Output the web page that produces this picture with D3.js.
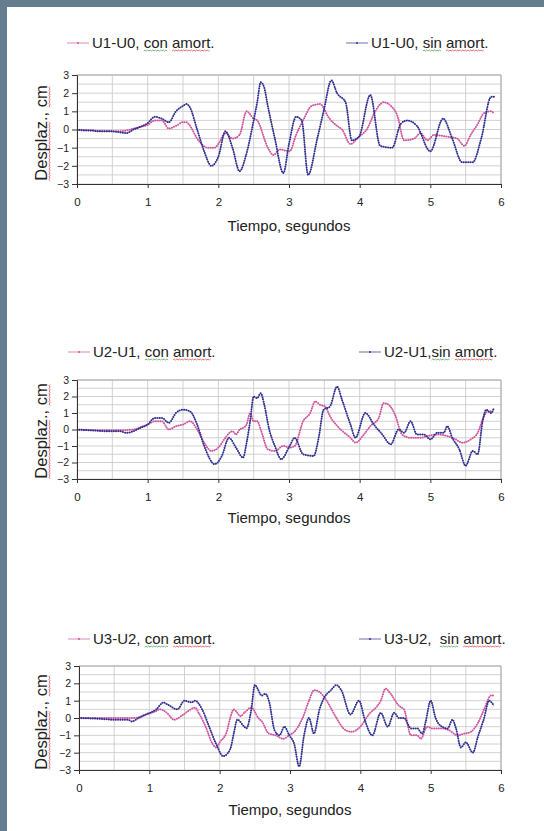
<!DOCTYPE html>
<html>
<head>
<meta charset="utf-8">
<script src="https://cdn.jsdelivr.net/npm/d3@7"></script>
<style>
  body { margin: 0; background: #fff; }
  svg { display: block; }
  text { font-family: "Liberation Sans", Arial, Helvetica, sans-serif; fill: #222; }
</style>
</head>
<body>
<svg id="page" width="544" height="831"></svg>
<script>
// Ticks and labels
var tickT = [0, 1, 2, 3, 4, 5, 6];
var tickD = [-3, -2, -1, 0, 1, 2, 3];
var gridT = [0, 0.5, 1, 1.5, 2, 2.5, 3, 3.5, 4, 4.5, 5, 5.5, 6];
var gridD = [-3, -2.5, -2, -1.5, -1, -0.5, 0, 0.5, 1, 1.5, 2, 2.5, 3];
var legendCon = ["U1-U0, con amort.", "U2-U1, con amort.", "U3-U2, con amort."];
var legendSin = ["U1-U0, sin amort.", "U2-U1,sin amort.", "U3-U2,  sin amort."];
var xTitle = "Tiempo, segundos";
var yTitle = "Desplaz., cm";

// [tiempo (s), desplazamiento (cm)]
var con1 = [[0,0],[0.2,-0.05],[0.4,-0.1],[0.6,-0.1],[0.7,-0.05],[0.8,0.05],[0.9,0.15],[1.0,0.25],[1.1,0.5],[1.2,0.5],
  [1.3,0.05],[1.4,0.2],[1.5,0.4],[1.55,0.4],[1.6,0.2],[1.7,-0.5],[1.85,-1.0],[1.95,-1.0],[2.0,-0.8],[2.1,-0.2],
  [2.2,-0.5],[2.3,-0.3],[2.4,1.0],[2.5,0.6],[2.55,0.5],[2.7,-1.0],[2.78,-1.4],[2.87,-1.1],[3.01,-1.2],[3.1,-0.3],
  [3.2,0.5],[3.32,1.3],[3.44,1.4],[3.49,1.2],[3.54,0.8],[3.68,0.2],[3.75,0.0],[3.87,-0.8],[3.99,-0.4],[4.1,0.0],
  [4.22,1.0],[4.34,1.5],[4.44,1.3],[4.53,0.8],[4.63,-0.6],[4.77,-0.5],[4.86,-0.2],[4.96,-0.6],[5.05,-0.3],[5.24,-0.4],
  [5.38,-0.5],[5.48,-0.9],[5.57,-0.3],[5.67,0.3],[5.76,0.9],[5.86,1.0],[5.9,0.9]];
var sin1 = [[0,0],[0.1,-0.05],[0.2,-0.05],[0.3,-0.1],[0.4,-0.1],[0.5,-0.1],[0.6,-0.15],[0.7,-0.2],[0.8,0.0],[0.9,0.15],
  [1.0,0.35],[1.1,0.7],[1.2,0.6],[1.3,0.4],[1.4,1.0],[1.5,1.3],[1.55,1.4],[1.6,1.2],[1.7,0.0],[1.8,-1.2],
  [1.9,-2.0],[2.0,-1.5],[2.1,-0.1],[2.2,-1.0],[2.3,-2.3],[2.4,-1.3],[2.5,0.5],[2.55,1.5],[2.6,2.6],[2.65,2.3],
  [2.7,1.3],[2.8,-0.5],[2.92,-2.4],[3.0,-0.8],[3.1,0.7],[3.18,0.5],[3.27,-2.5],[3.4,-0.5],[3.49,1.0],[3.6,2.7],
  [3.68,2.0],[3.8,1.5],[3.89,-0.6],[3.99,-0.4],[4.15,1.9],[4.29,-0.9],[4.46,-1.0],[4.58,0.3],[4.67,0.5],[4.81,0.2],
  [5.0,-1.2],[5.18,0.6],[5.31,-0.5],[5.45,-1.8],[5.6,-1.8],[5.72,-0.5],[5.86,1.8],[5.9,1.8]];
var con2 = [[0,0],[0.3,-0.05],[0.6,-0.05],[0.8,0.0],[0.9,0.15],[1.0,0.3],[1.1,0.5],[1.2,0.5],[1.3,0.0],[1.4,0.2],
  [1.5,0.3],[1.6,0.5],[1.7,0.0],[1.8,-0.8],[1.9,-1.3],[2.0,-1.1],[2.1,-0.5],[2.2,-0.1],[2.25,-0.3],[2.3,0.0],
  [2.35,0.1],[2.4,0.3],[2.45,1.0],[2.5,0.5],[2.55,0.5],[2.6,0.0],[2.7,-1.2],[2.8,-1.3],[2.92,-1.0],[3.01,-1.1],
  [3.08,-1.0],[3.2,0.5],[3.3,1.0],[3.37,1.7],[3.44,1.5],[3.51,1.4],[3.58,0.8],[3.73,0.0],[3.87,-0.5],[3.94,-0.8],
  [4.06,-0.3],[4.15,0.2],[4.27,0.7],[4.34,1.6],[4.41,1.5],[4.5,0.9],[4.6,-0.3],[4.72,-0.5],[4.86,-0.5],[4.96,-0.4],
  [5.1,-0.3],[5.24,-0.4],[5.36,-0.6],[5.45,-0.8],[5.57,-0.6],[5.67,-0.2],[5.74,0.6],[5.81,1.1],[5.88,1.1]];
var sin2 = [[0,0],[0.2,-0.05],[0.4,-0.1],[0.5,-0.1],[0.6,-0.1],[0.7,-0.2],[0.8,-0.1],[0.9,0.1],[1.0,0.3],[1.1,0.7],
  [1.2,0.7],[1.3,0.4],[1.4,1.0],[1.5,1.2],[1.6,1.1],[1.7,0.3],[1.8,-1.0],[1.95,-2.1],[2.05,-1.6],[2.15,-0.5],
  [2.25,-1.1],[2.35,-1.7],[2.4,-0.8],[2.45,0.5],[2.5,2.0],[2.55,1.9],[2.6,2.2],[2.65,1.5],[2.72,0.0],[2.8,-1.0],
  [2.89,-1.8],[3.01,-1.0],[3.08,-0.5],[3.2,-1.5],[3.35,-1.6],[3.42,-0.5],[3.49,1.2],[3.58,1.4],[3.68,2.6],[3.75,1.8],
  [3.87,0.3],[3.94,-0.5],[4.08,1.0],[4.2,0.3],[4.32,-0.3],[4.44,-0.9],[4.55,0.0],[4.63,-0.2],[4.72,0.5],[4.81,-0.3],
  [4.91,-0.3],[5.0,-0.6],[5.1,-0.2],[5.19,-0.2],[5.24,0.2],[5.31,-0.5],[5.41,-1.2],[5.5,-2.2],[5.6,-1.3],[5.67,-1.5],
  [5.74,0.5],[5.79,1.2],[5.86,1.0],[5.9,1.3]];
var con3 = [[0,0],[0.4,0.0],[0.8,0.0],[0.85,0.05],[0.95,0.2],[1.1,0.4],[1.15,0.5],[1.25,0.3],[1.35,-0.1],[1.45,0.1],
  [1.55,0.4],[1.65,0.6],[1.7,0.3],[1.8,-0.5],[1.9,-1.5],[1.95,-1.7],[2.0,-1.4],[2.1,-0.8],[2.15,0.0],[2.2,0.5],
  [2.3,0.1],[2.35,0.3],[2.45,0.6],[2.55,0.0],[2.6,-0.2],[2.7,-0.9],[2.8,-1.0],[2.9,-1.2],[2.99,-1.0],[3.06,-0.8],
  [3.18,0.0],[3.27,1.0],[3.34,1.6],[3.42,1.5],[3.47,1.3],[3.55,0.8],[3.66,0.0],[3.76,-0.6],[3.87,-0.8],[4.0,-0.5],
  [4.12,0.2],[4.29,1.0],[4.36,1.7],[4.43,1.4],[4.55,0.7],[4.62,0.5],[4.72,-1.0],[4.81,-1.0],[4.86,-1.2],[4.95,-0.5],
  [5.02,-0.6],[5.14,-0.6],[5.26,-0.7],[5.38,-1.0],[5.48,-0.9],[5.57,-0.8],[5.67,-0.3],[5.76,0.5],[5.86,1.3],[5.9,1.3]];
var sin3 = [[0,0],[0.3,-0.05],[0.5,-0.1],[0.7,-0.1],[0.75,-0.2],[0.85,0.0],[0.95,0.2],[1.1,0.5],[1.2,0.9],[1.25,0.8],
  [1.4,0.5],[1.5,1.0],[1.6,0.9],[1.65,1.0],[1.75,0.5],[1.85,-0.5],[1.95,-1.5],[2.05,-2.2],[2.15,-1.8],[2.2,-0.9],
  [2.25,-0.1],[2.35,-0.5],[2.38,-0.6],[2.45,0.5],[2.5,1.9],[2.6,1.3],[2.65,1.4],[2.7,1.0],[2.78,-0.7],[2.85,-1.0],
  [2.92,-0.5],[2.99,-1.0],[3.06,-1.5],[3.13,-2.8],[3.2,-1.0],[3.27,0.0],[3.34,-0.9],[3.42,0.5],[3.49,1.2],[3.58,1.6],
  [3.66,1.9],[3.73,1.6],[3.86,0.2],[3.98,1.0],[4.07,-0.2],[4.17,-1.0],[4.29,0.3],[4.39,-0.5],[4.48,0.3],[4.55,0.0],
  [4.62,0.0],[4.72,-0.6],[4.81,-0.6],[4.88,-0.9],[4.93,-0.2],[5.0,1.0],[5.07,0.0],[5.16,-0.5],[5.24,-0.6],[5.31,-0.1],
  [5.36,-0.6],[5.43,-1.7],[5.5,-1.4],[5.6,-2.0],[5.67,-1.1],[5.76,0.0],[5.83,1.0],[5.9,0.7]];

var pink = "#d2549e", blue = "#2f2f90";
var font = "'Liberation Sans', Arial, Helvetica, sans-serif";

// page layout of the three charts
var panels = [
  {con: con1, sin: sin1, left: 77, right: 501, top: 75, bottom: 184, legBase: 48, conLeg: 67, sinLeg: 346, titleBase: 231, yTitleC: 133},
  {con: con2, sin: sin2, left: 77, right: 501, top: 380, bottom: 479, legBase: 357, conLeg: 68, sinLeg: 359, titleBase: 523, yTitleC: 431},
  {con: con3, sin: sin3, left: 79, right: 501, top: 666, bottom: 770, legBase: 644, conLeg: 68, sinLeg: 359, titleBase: 815, yTitleC: 722}
];

var svg = d3.select("#page");
svg.append("rect").attr("width", 544).attr("height", 831).attr("fill", "#fff");
svg.append("rect").attr("width", 544).attr("height", 7).attr("fill", "#647d8f");
svg.append("rect").attr("width", 7).attr("height", 831).attr("fill", "#647d8f");

// wavy spell-check underline
function squiggle(parent, x0, x1, y0, color) {
  var d = "M" + x0 + "," + y0, up = true;
  for (var xx = x0 + 1.3; xx <= x1; xx += 1.3) {
    d += "L" + xx.toFixed(1) + "," + (y0 + (up ? -1 : 0)).toFixed(1);
    up = !up;
  }
  parent.append("path").attr("d", d).attr("fill", "none").attr("stroke", color).attr("stroke-width", 0.7);
}

function markWord(parent, textNode, str, word, y0, color) {
  var i = str.indexOf(word);
  if (i < 0) return;
  var a = textNode.getExtentOfChar(i), b = textNode.getExtentOfChar(i + word.length - 1);
  squiggle(parent, a.x, b.x + b.width, y0, color);
}

function legendItem(g, x0, base, label, color) {
  g.append("line").attr("x1", x0).attr("x2", x0 + 22).attr("y1", base - 5).attr("y2", base - 5)
    .attr("stroke", color).attr("stroke-width", 0.7);
  g.append("circle").attr("cx", x0 + 11).attr("cy", base - 5).attr("r", 1).attr("fill", color);
  var t = g.append("text").attr("x", x0 + 25).attr("y", base).attr("font-size", 15)
    .style("white-space", "pre").text(label);
  var node = t.node();
  var w = label.indexOf("con") >= 0 ? "con" : "sin";
  markWord(g, node, label, w, base + 3, "#3a9a3a");
  markWord(g, node, label, "amort", base + 3, "#d83030");
}

panels.forEach(function (p, i) {
  var g = svg.append("g");
  var x = d3.scaleLinear().domain([0, 6]).range([p.left, p.right]);
  var y = d3.scaleLinear().domain([-3, 3]).range([p.bottom, p.top]);

  // grid
  g.append("g").selectAll("line").data(gridD).join("line")
    .attr("x1", p.left).attr("x2", p.right)
    .attr("y1", function (d) { return y(d); }).attr("y2", function (d) { return y(d); })
    .attr("stroke", "#c6c6c6").attr("stroke-width", 0.8);
  g.append("g").selectAll("line").data(gridT).join("line")
    .attr("y1", p.top).attr("y2", p.bottom)
    .attr("x1", function (d) { return x(d); }).attr("x2", function (d) { return x(d); })
    .attr("stroke", "#c6c6c6").attr("stroke-width", 0.8);
  g.append("path").attr("d", "M" + p.left + "," + p.top + "H" + p.right + "V" + p.bottom)
    .attr("fill", "none").attr("stroke", "#a8a8a8").attr("stroke-width", 1);

  // series
  var clipId = "clip" + i;
  g.append("clipPath").attr("id", clipId).append("rect")
    .attr("x", p.left).attr("y", p.top - 2).attr("width", p.right - p.left).attr("height", p.bottom - p.top + 4);
  var line = d3.line().x(function (d) { return x(d[0]); }).y(function (d) { return y(d[1]); })
    .curve(d3.curveMonotoneX);
  [[p.con, pink], [p.sin, blue]].forEach(function (s) {
    var sg = g.append("g").attr("clip-path", "url(#" + clipId + ")");
    sg.append("path").attr("d", line(s[0])).attr("fill", "none")
      .attr("stroke", s[1]).attr("stroke-width", 0.6).attr("opacity", 0.7);
    sg.append("path").attr("d", line(s[0])).attr("fill", "none")
      .attr("stroke", s[1]).attr("stroke-width", 2).attr("stroke-linecap", "round")
      .attr("stroke-dasharray", "0 2.3");
  });

  // axes
  var ax = g.append("g").attr("transform", "translate(0," + p.bottom + ")")
    .call(d3.axisBottom(x).tickValues(tickT).tickSize(4).tickPadding(10).tickFormat(d3.format("d")));
  ax.attr("font-size", 11.5).attr("font-family", font);
  ax.select(".domain").attr("stroke", "#333");
  ax.selectAll(".tick line").attr("stroke", "#333");
  ax.selectAll("text").attr("fill", "#222");

  var ay = g.append("g").attr("transform", "translate(" + p.left + ",0)")
    .call(d3.axisLeft(y).tickValues(tickD).tickSize(5).tickPadding(3).tickFormat(d3.format("d")));
  ay.attr("font-size", 10.5).attr("font-family", font);
  ay.select(".domain").attr("stroke", "#333");
  ay.selectAll(".tick line").attr("stroke", "#333");
  ay.selectAll("text").attr("fill", "#222");

  // titles
  g.append("text").attr("x", (p.left + p.right) / 2).attr("y", p.titleBase)
    .attr("text-anchor", "middle").attr("font-size", 15).text(xTitle);
  var yt = g.append("g").attr("transform", "translate(47," + p.yTitleC + ") rotate(-90)");
  var ytext = yt.append("text").attr("text-anchor", "middle").attr("font-size", 16.5).text(yTitle);
  markWord(yt, ytext.node(), yTitle, "Desplaz", 3, "#d83030");
  markWord(yt, ytext.node(), yTitle, "cm", 3, "#d83030");

  // legend
  legendItem(g, p.conLeg, p.legBase, legendCon[i], pink);
  legendItem(g, p.sinLeg, p.legBase, legendSin[i], blue);
});
</script>
</body>
</html>
